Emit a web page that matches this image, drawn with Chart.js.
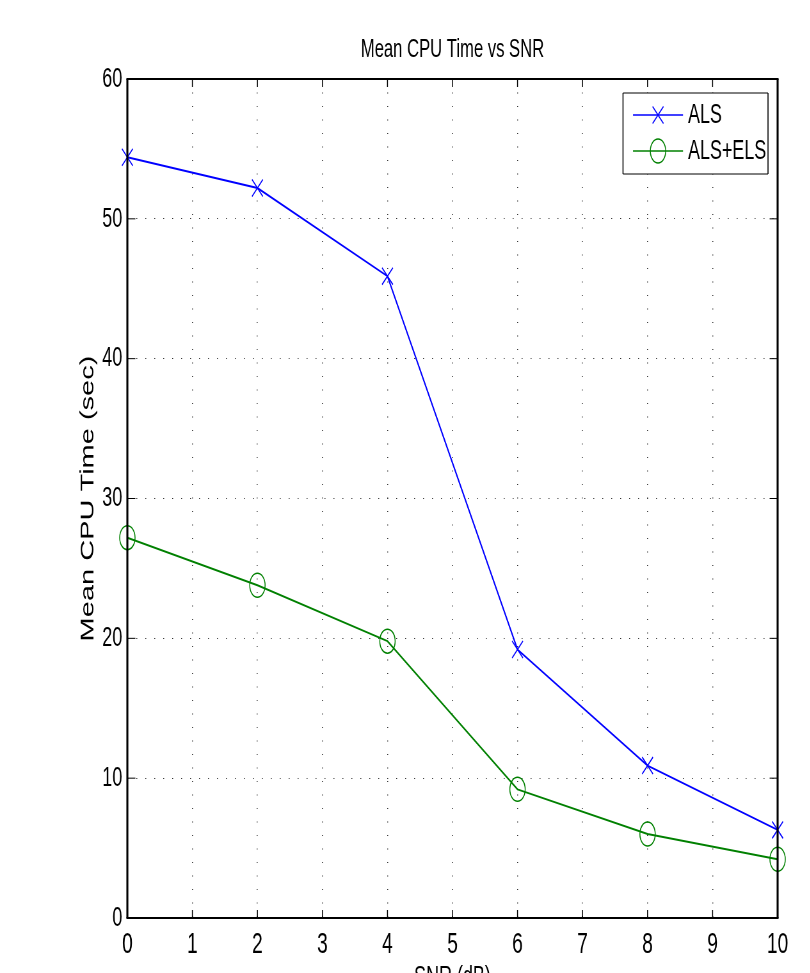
<!DOCTYPE html>
<html>
<head>
<meta charset="utf-8">
<script src="https://cdn.jsdelivr.net/npm/chart.js@4/dist/chart.umd.min.js"></script>
<style>
  html, body { margin: 0; padding: 0; background: #fff; overflow: hidden; }
  #wrap { width: 810px; height: 973px; overflow: hidden; }
  /* the original figure is squeezed sideways, so draw wide and compress */
  #chart { transform: scaleX(0.64); transform-origin: 0 0; display: block; }
</style>
</head>
<body>
<div id="wrap"><canvas id="chart" width="1266" height="973"></canvas></div>
<script>
// Data
const snr = [0, 2, 4, 6, 8, 10];
const alsTime = [54.4, 52.2, 45.9, 19.2, 10.9, 6.3];
const alsElsTime = [27.2, 23.8, 19.8, 9.2, 6.0, 4.2];
const seriesNames = ["ALS", "ALS+ELS"];
const xTicks = [0, 1, 2, 3, 4, 5, 6, 7, 8, 9, 10];
const yTicks = [0, 10, 20, 30, 40, 50, 60];

const SX = 0.64; // horizontal squeeze
const FONT = "'Liberation Sans', Arial, sans-serif";

// Titles, box, inward ticks, legend
const decorations = {
  id: "decorations",
  afterDraw(chart) {
    const ctx = chart.ctx;
    const a = chart.chartArea;
    const xs = chart.scales.x;
    const ys = chart.scales.y;
    ctx.save();

    // inward tick marks
    ctx.strokeStyle = "#000";
    ctx.lineWidth = 1.5;
    xTicks.forEach((v) => {
      const px = xs.getPixelForValue(v);
      ctx.beginPath();
      ctx.moveTo(px, a.bottom);
      ctx.lineTo(px, a.bottom - 8);
      ctx.moveTo(px, a.top);
      ctx.lineTo(px, a.top + 8);
      ctx.stroke();
    });
    ctx.lineWidth = 1;
    yTicks.forEach((v) => {
      const py = ys.getPixelForValue(v);
      ctx.beginPath();
      ctx.moveTo(a.left, py);
      ctx.lineTo(a.left + 8 / SX, py);
      ctx.moveTo(a.right, py);
      ctx.lineTo(a.right - 8 / SX, py);
      ctx.stroke();
    });

    // axes box
    ctx.lineWidth = 2;
    ctx.beginPath();
    ctx.moveTo(a.left - 1.5, a.top);
    ctx.lineTo(a.right + 1.5, a.top);
    ctx.moveTo(a.left - 1.5, a.bottom);
    ctx.lineTo(a.right + 1.5, a.bottom);
    ctx.stroke();
    ctx.lineWidth = 2 / SX;
    ctx.beginPath();
    ctx.moveTo(a.left, a.top);
    ctx.lineTo(a.left, a.bottom);
    ctx.moveTo(a.right, a.top);
    ctx.lineTo(a.right, a.bottom);
    ctx.stroke();

    // titles
    const cx = (a.left + a.right) / 2;
    ctx.fillStyle = "#000";
    ctx.textAlign = "center";
    ctx.textBaseline = "alphabetic";
    ctx.font = "26px " + FONT;
    ctx.fillText("Mean CPU Time vs SNR", cx, 57);
    ctx.font = "28px " + FONT;
    ctx.fillText("SNR (dB)", cx, 985);

    ctx.save();
    ctx.translate(88 / SX, (a.top + a.bottom) / 2);
    ctx.rotate(-Math.PI / 2);
    ctx.font = "29px " + FONT;
    ctx.textBaseline = "middle";
    ctx.fillText("Mean CPU Time (sec)", 0, 0);
    ctx.restore();

    // legend
    const lx = 623 / SX, lw = (768 - 623) / SX, ly = 93, lh = 81;
    ctx.fillStyle = "#fff";
    ctx.fillRect(lx, ly, lw, lh);
    ctx.strokeStyle = "#000";
    ctx.lineWidth = 1;
    ctx.beginPath();
    ctx.moveTo(lx, ly); ctx.lineTo(lx + lw, ly);
    ctx.moveTo(lx, ly + lh); ctx.lineTo(lx + lw, ly + lh);
    ctx.stroke();
    ctx.lineWidth = 1.6;
    ctx.beginPath();
    ctx.moveTo(lx, ly); ctx.lineTo(lx, ly + lh);
    ctx.moveTo(lx + lw, ly); ctx.lineTo(lx + lw, ly + lh);
    ctx.stroke();

    const rows = [
      { name: seriesNames[0], color: "#0000ff", style: "crossRot", y: 115 },
      { name: seriesNames[1], color: "#008000", style: "circle", y: 151 },
    ];
    rows.forEach((r) => {
      const x0 = 633 / SX, x1 = 683 / SX, xm = 658 / SX;
      ctx.strokeStyle = r.color;
      ctx.fillStyle = "rgba(0,0,0,0)";
      ctx.lineWidth = 1.5;
      ctx.beginPath();
      ctx.moveTo(x0, r.y);
      ctx.lineTo(x1, r.y);
      ctx.stroke();
      Chart.helpers.drawPoint(ctx, {
        pointStyle: r.style, radius: 12,
        borderWidth: 1.5, rotation: 0,
      }, xm, r.y);
      ctx.fillStyle = "#000";
      ctx.textAlign = "left";
      ctx.textBaseline = "middle";
      ctx.font = "28px " + FONT;
      ctx.fillText(r.name, 688 / SX, r.y);
    });

    ctx.restore();
  },
};

new Chart(document.getElementById("chart"), {
  type: "line",
  data: {
    datasets: [
      {
        label: seriesNames[0],
        data: snr.map((x, i) => ({ x: x, y: alsTime[i] })),
        borderColor: "#0000ff",
        backgroundColor: "transparent",
        borderWidth: 2,
        pointStyle: "crossRot",
        pointRadius: 12,
        pointBorderWidth: 1.5,
        pointBorderColor: "#0000ff",
        tension: 0,
      },
      {
        label: seriesNames[1],
        data: snr.map((x, i) => ({ x: x, y: alsElsTime[i] })),
        borderColor: "#008000",
        backgroundColor: "transparent",
        borderWidth: 2,
        pointStyle: "circle",
        pointRadius: 12,
        pointBorderWidth: 1.5,
        pointBorderColor: "#008000",
        pointBackgroundColor: "transparent",
        tension: 0,
      },
    ],
  },
  options: {
    responsive: false,
    animation: false,
    devicePixelRatio: 1,
    clip: false,
    layout: { padding: { top: 79, right: 51, left: 0, bottom: 0 } },
    plugins: { legend: { display: false }, tooltip: { enabled: false } },
    scales: {
      x: {
        type: "linear",
        min: 0,
        max: 10,
        afterBuildTicks: (s) => { s.ticks = xTicks.map((v) => ({ value: v })); },
        afterFit: (s) => { s.height = 55; },
        grid: { color: "#333", lineWidth: 1.5, drawTicks: false },
        border: { display: false, dash: [1, 12.5] },
        ticks: { color: "#000", padding: 9, maxRotation: 0, font: { family: FONT, size: 30 } },
      },
      y: {
        min: 0,
        max: 60,
        afterBuildTicks: (s) => { s.ticks = yTicks.map((v) => ({ value: v })); },
        afterFit: (s) => { s.width = 199; },
        grid: { color: "#333", lineWidth: 1, drawTicks: false },
        border: { display: false, dash: [1.5, 12.5] },
        ticks: { color: "#000", padding: 8, font: { family: FONT, size: 28 } },
      },
    },
  },
  plugins: [decorations],
});
</script>
</body>
</html>
